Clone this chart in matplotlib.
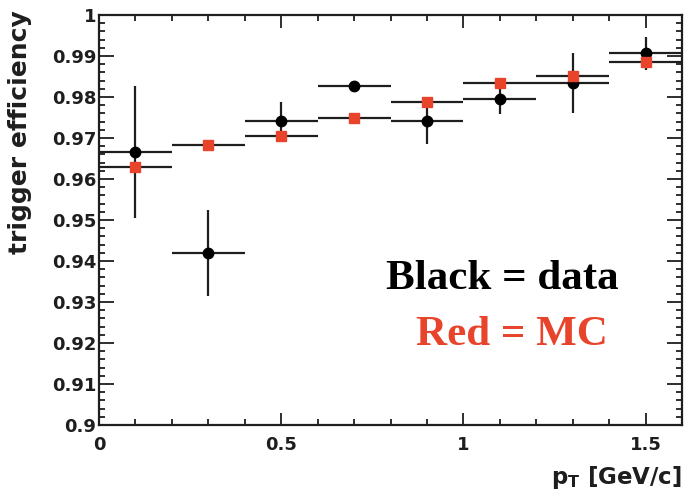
'''Trigger efficiency versus pT, data compared with MC'''

import numpy as np
import matplotlib
matplotlib.use('Agg')
from matplotlib.pyplot import figure
from matplotlib.ticker import MultipleLocator, FixedFormatter, FixedLocator

# bin centres and half widths in pT [GeV/c]
pt = [0.1, 0.3, 0.5, 0.7, 0.9, 1.1, 1.3, 1.5]
pt_half = [0.1, 0.1, 0.1, 0.1, 0.1, 0.1, 0.1, 0.1]

# measured efficiency with statistical errors
eff_data = [0.9666, 0.9420, 0.9742, 0.9827, 0.9742, 0.9796, 0.9834, 0.9907]
err_data = [0.0161, 0.0105, 0.0047, 0.0008, 0.0057, 0.0037, 0.0073, 0.0040]

# simulated efficiency
eff_mc = [0.9630, 0.9684, 0.9706, 0.9749, 0.9789, 0.9834, 0.9851, 0.9886]
err_mc = [0.0004, 0.0004, 0.0004, 0.0004, 0.0004, 0.0004, 0.0004, 0.0004]

y_ticks = [0.9, 0.91, 0.92, 0.93, 0.94, 0.95, 0.96, 0.97, 0.98, 0.99, 1.0]
y_tick_labels = ['0.9', '0.91', '0.92', '0.93', '0.94', '0.95', '0.96',
                 '0.97', '0.98', '0.99', '1']
x_ticks = [0, 0.5, 1, 1.5]
x_tick_labels = ['0', '0.5', '1', '1.5']

RED = '#e8432b'
INK = '#1e1e1e'
SANS = 'DejaVu Sans'
SERIF = 'Liberation Serif'

fig = figure(figsize=(6.86, 4.93), dpi=100)
ax = fig.add_axes([0.1443, 0.1379, 0.9942 - 0.1443, 0.9696 - 0.1379])

ax.errorbar(pt, eff_data, xerr=pt_half, yerr=err_data, fmt='o', color='black',
            ecolor=INK, elinewidth=1.6, capsize=0, markersize=7.5, zorder=3)
ax.errorbar(pt, eff_mc, xerr=pt_half, yerr=err_mc, fmt='s', color=RED,
            mec=RED, ecolor=INK, elinewidth=1.6, capsize=0, markersize=6.5,
            zorder=4)

ax.set_xlim(0, 1.6)
ax.set_ylim(0.9, 1.0)

ax.xaxis.set_major_locator(FixedLocator(x_ticks))
ax.xaxis.set_major_formatter(FixedFormatter(x_tick_labels))
ax.xaxis.set_minor_locator(MultipleLocator(0.1))
ax.yaxis.set_major_locator(FixedLocator(y_ticks))
ax.yaxis.set_major_formatter(FixedFormatter(y_tick_labels))
ax.yaxis.set_minor_locator(MultipleLocator(0.002))

ax.tick_params(which='both', direction='in', top=True, right=True, width=1.3,
               color=INK)
ax.tick_params(which='major', length=9)
ax.tick_params(which='minor', length=4.5)
ax.tick_params(axis='y', which='major', length=11, pad=2)
ax.tick_params(axis='x', which='major', pad=8)
for lab in ax.get_xticklabels() + ax.get_yticklabels():
    lab.set_fontfamily(SANS)
    lab.set_fontweight('bold')
    lab.set_fontsize(13)
    lab.set_color(INK)
for sp in ax.spines.values():
    sp.set_linewidth(1.6)
    sp.set_color(INK)

ax.set_ylabel('trigger efficiency', fontfamily=SANS, fontweight='bold',
              fontsize=18, ha='right', color=INK)
ax.yaxis.set_label_coords(-0.115, 1.012)
ax.text(1.0, -0.095, r'p$_{\mathregular{T}}$ [GeV/c]', transform=ax.transAxes,
        ha='right', va='top', fontfamily=SANS, fontweight='bold', fontsize=16.5,
        color=INK)

ax.text(0.787, 0.9356, 'Black = data', fontfamily=SERIF, fontweight='bold',
        fontsize=31, ha='left', va='center', color='black')
ax.text(0.870, 0.9220, 'Red = MC', fontfamily=SERIF, fontweight='bold',
        fontsize=31, ha='left', va='center', color=RED)

fig.savefig('out.png', dpi=100)
